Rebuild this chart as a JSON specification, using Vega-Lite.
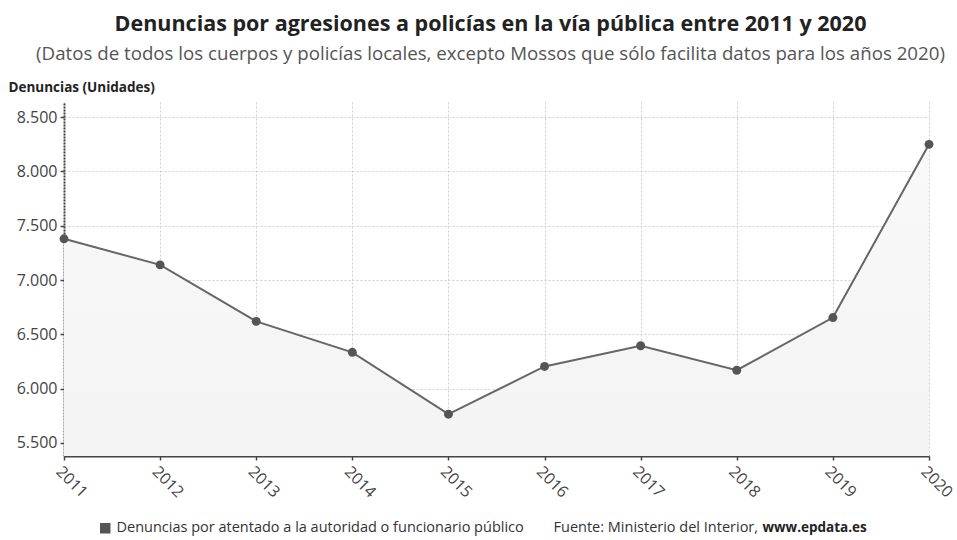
{
  "$schema": "https://vega.github.io/schema/vega-lite/v6.json",
  "width": 865,
  "height": 354,
  "autosize": {"type": "none"},
  "padding": {"left": 64, "top": 102, "right": 28, "bottom": 84},
  "background": "white",
  "title": {
    "text": "Denuncias por agresiones a policías en la vía pública entre 2011 y 2020",
    "subtitle": "(Datos de todos los cuerpos y policías locales, excepto Mossos que sólo facilita datos para los años 2020)",
    "anchor": "middle",
    "font": "Open Sans",
    "fontSize": 21.5,
    "fontWeight": "bold",
    "color": "#222222",
    "subtitleFont": "Open Sans",
    "subtitleFontSize": 18.7,
    "subtitleColor": "#555555",
    "subtitlePadding": 10,
    "offset": 16,
    "dx": -6
  },
  "data": {
    "values": [
      {"year": 2011, "value": 7380},
      {"year": 2012, "value": 7140},
      {"year": 2013, "value": 6620},
      {"year": 2014, "value": 6335},
      {"year": 2015, "value": 5765},
      {"year": 2016, "value": 6205},
      {"year": 2017, "value": 6395},
      {"year": 2018, "value": 6170},
      {"year": 2019, "value": 6655},
      {"year": 2020, "value": 8250}
    ]
  },
  "encoding": {
    "y": {
      "field": "value",
      "type": "quantitative",
      "scale": {"domain": [5380, 8640], "nice": false, "zero": false},
      "axis": {
        "values": [5500, 6000, 6500, 7000, 7500, 8000, 8500],
        "labelExpr": "replace(format(datum.value, ','), ',', '.')",
        "labelFont": "Open Sans",
        "labelFontSize": 16,
        "labelColor": "#444444",
        "labelPadding": 3,
        "domainColor": "#444444",
        "domainWidth": 2,
        "domainDash": [2, 1],
        "tickColor": "#444444",
        "tickSize": 4,
        "tickWidth": 1.5,
        "grid": true,
        "gridColor": "#cfcfcf",
        "gridDash": [2, 2],
        "title": "Denuncias (Unidades)",
        "titleFont": "Open Sans",
        "titleFontSize": 13.5,
        "titleFontWeight": "bold",
        "titleColor": "#222222",
        "titleAngle": 0,
        "titleAlign": "left",
        "titleBaseline": "middle",
        "titleX": -56,
        "titleY": -15
      }
    }
  },
  "layer": [
    {
      "mark": {
        "type": "area",
        "clip": true,
        "color": {
          "x1": 0, "y1": 0, "x2": 0, "y2": 1,
          "gradient": "linear",
          "stops": [
            {"offset": 0, "color": "#f9f9f9"},
            {"offset": 1, "color": "#e9e9e9"}
          ]
        }
      },
      "encoding": {
        "x": {
          "field": "year",
          "type": "quantitative",
          "scale": {"domain": [2011, 2020], "nice": false, "zero": false},
          "axis": {
            "values": [2011, 2012, 2013, 2014, 2015, 2016, 2017, 2018, 2019, 2020],
            "format": "d",
            "labelAngle": 45,
            "labelAlign": "left",
            "labelBaseline": "top",
            "labelFont": "Open Sans",
            "labelFontSize": 16,
            "labelColor": "#444444",
            "labelPadding": 3,
            "labelFlush": false,
            "labelOverlap": false,
            "domainColor": "#444444",
            "domainWidth": 2,
            "tickColor": "#444444",
            "tickSize": 4,
            "tickWidth": 1.5,
            "grid": true,
            "gridColor": "#cfcfcf",
            "gridDash": [2, 2],
            "title": "Fuente: Ministerio del Interior,",
            "titleFont": "Open Sans",
            "titleFontSize": 14.5,
            "titleFontWeight": "normal",
            "titleColor": "#333333",
            "titleAlign": "left",
            "titleBaseline": "middle",
            "titleX": 489,
            "titleY": 71
          }
        }
      }
    },
    {
      "mark": {"type": "line", "color": "#666666", "strokeWidth": 2},
      "encoding": {
        "x": {"field": "year", "type": "quantitative", "axis": null}
      }
    },
    {
      "mark": {"type": "circle", "opacity": 1, "size": 80},
      "encoding": {
        "x": {
          "field": "year",
          "type": "quantitative",
          "axis": {
            "orient": "top",
            "domain": false,
            "ticks": false,
            "labels": false,
            "grid": false,
            "title": "www.epdata.es",
            "titleFont": "Open Sans",
            "titleFontSize": 13.5,
            "titleFontWeight": "bold",
            "titleColor": "#222222",
            "titleAlign": "left",
            "titleBaseline": "middle",
            "titleX": 698,
            "titleY": 425
          }
        },
        "color": {
          "datum": "Denuncias por atentado a la autoridad o funcionario público",
          "type": "nominal",
          "scale": {"range": ["#555555"]},
          "legend": {
            "orient": "none",
            "legendX": 34,
            "legendY": 419,
            "title": null,
            "symbolType": "square",
            "symbolSize": 110,
            "symbolStrokeWidth": 0,
            "labelLimit": 600,
            "labelFont": "Open Sans",
            "labelFontSize": 14.5,
            "labelColor": "#333333"
          }
        }
      }
    }
  ],
  "resolve": {"axis": {"x": "independent"}},
  "config": {
    "view": {"stroke": null}
  }
}
